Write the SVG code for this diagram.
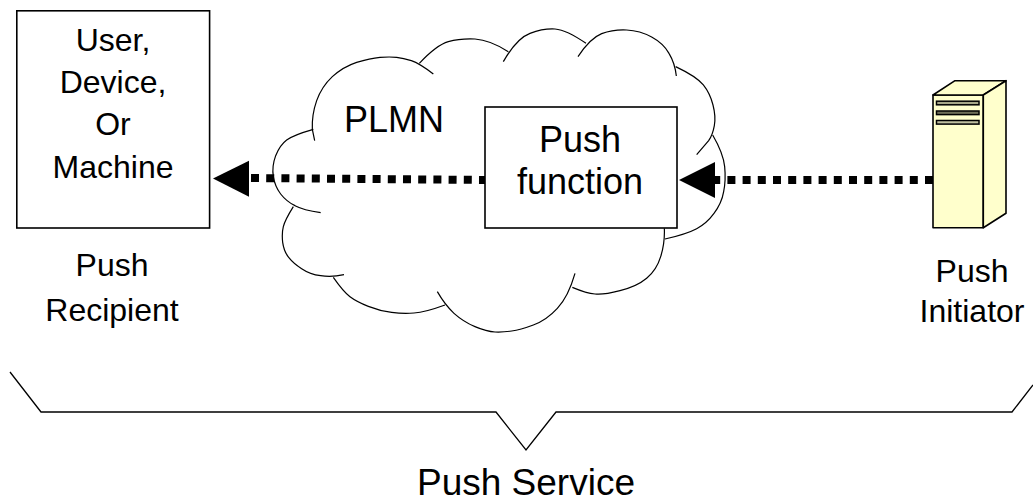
<svg xmlns="http://www.w3.org/2000/svg" width="1033" height="497" viewBox="0 0 1033 497">
<style>
text{font-family:"Liberation Sans",Arial,sans-serif;fill:#000;text-anchor:middle}
.t32{font-size:32px}.t36{font-size:36px}.t37{font-size:37px}
.box{fill:#fff;stroke:#000;stroke-width:1.6}
.arc{fill:none;stroke:#000;stroke-width:3.6;stroke-linejoin:round}
.srv{fill:#ffffcc;stroke:#000;stroke-width:1.6;stroke-linejoin:round}
.slot{stroke:#000;stroke-width:1.5}
.dash{fill:none;stroke:#000;stroke-width:8;stroke-dasharray:8 7.2}
.brace{fill:none;stroke:#000;stroke-width:1.3}
</style>
<g id="cloud">
<g transform="translate(260 0) scale(.33333)">
<path class="arc" d="M164,422 L157,388 Q155,345 170,302 Q185,260 217,230 Q250,200 290,187 Q330,175 360,172 Q390,170 410,172 Q430,175 454,182 Q478,190 520,222"/>
<path class="arc" d="M478,190 Q530,135 565,125 Q600,115 645,117 Q690,120 745,155"/>
<path class="arc" d="M730,185 Q770,115 810,100 Q850,85 885,87 Q920,90 978,130"/>
<path class="arc" d="M954,170 Q990,115 1025,101 Q1060,88 1100,90 Q1140,92 1175,111 Q1210,130 1227,160 Q1245,190 1249,228"/>
<path class="arc" d="M1247,200 Q1310,230 1330,255 Q1350,280 1359,315 Q1368,350 1363,377 Q1358,405 1346,422 L1310,464"/>
<path class="arc" d="M1358,405 Q1390,460 1394,500 Q1398,540 1391,575 Q1385,610 1362,640 Q1340,670 1310,686 Q1280,702 1215,717"/>
<path class="arc" d="M1213,685 Q1215,730 1202,770 Q1190,810 1160,835 Q1130,860 1080,872 Q1030,885 1005,882 Q980,880 937,862"/>
<path class="arc" d="M945,820 Q925,890 892,925 Q860,960 820,975 Q780,990 755,993 Q730,997 705,996 Q680,995 645,980 Q610,965 582,940 Q555,915 532,875"/>
<path class="arc" d="M555,915 Q495,937 462,939 Q430,942 395,937 Q360,933 325,919 Q290,905 270,890 Q250,875 220,832"/>
<path class="arc" d="M252,824 Q215,832 182,827 Q150,823 125,806 Q100,790 86,772 Q72,755 68,727 Q65,700 70,680 Q75,660 100,620"/>
<path class="arc" d="M182,638 Q130,630 105,617 Q80,605 62,582 Q45,560 40,530 Q35,500 47,467 Q60,435 80,420 Q100,405 160,388"/>
</g>
<text class="t36" x="394" y="132">PLMN</text>
</g>
<g id="connectors">
<path class="dash" d="M487 180L249 178"/>
<path d="M213 178.500L249 160.700V196.700Z"/>
<path class="dash" d="M933 180H715"/>
<path d="M679 180L715 162V198Z"/>
</g>
<g id="push-function">
<rect class="box" x="485" y="107" width="192" height="121"/>
<text class="t36" x="580" y="152">Push</text>
<text class="t36" x="580" y="194">function</text>
</g>
<g id="push-recipient">
<rect class="box" x="16.800" y="10.800" width="192.800" height="217.200"/>
<text class="t32" x="113" y="51">User,</text>
<text class="t32" x="113" y="93">Device,</text>
<text class="t32" x="113" y="135">Or</text>
<text class="t32" x="113" y="178">Machine</text>
<text class="t32" x="112" y="276">Push</text>
<text class="t32" x="112" y="321">Recipient</text>
</g>
<g id="push-initiator">
<path class="srv" d="M933 95H983.3V227.7H933Z"/>
<path class="srv" d="M933 95L955 80.7H1006L983.3 95Z"/>
<path class="srv" d="M983.3 95L1006 80.7V213.3L983.3 227.700Z"/>
<rect class="slot" x="936.500" y="101.200" width="42.500" height="3.600" fill="#a8a888"/>
<rect class="slot" x="936.500" y="111" width="42.500" height="3.600" fill="#6e6e58"/>
<rect class="slot" x="936.500" y="120.500" width="42.500" height="3.600" fill="#c0c0a0"/>
<text class="t32" x="972" y="282">Push</text>
<text class="t32" x="972" y="322">Initiator</text>
</g>
<g id="push-service">
<path class="brace" d="M10 372L41 412H496L526 450L556 412H1012L1033 385"/>
<text class="t37" x="526" y="495">Push Service</text>
</g>
</svg>
